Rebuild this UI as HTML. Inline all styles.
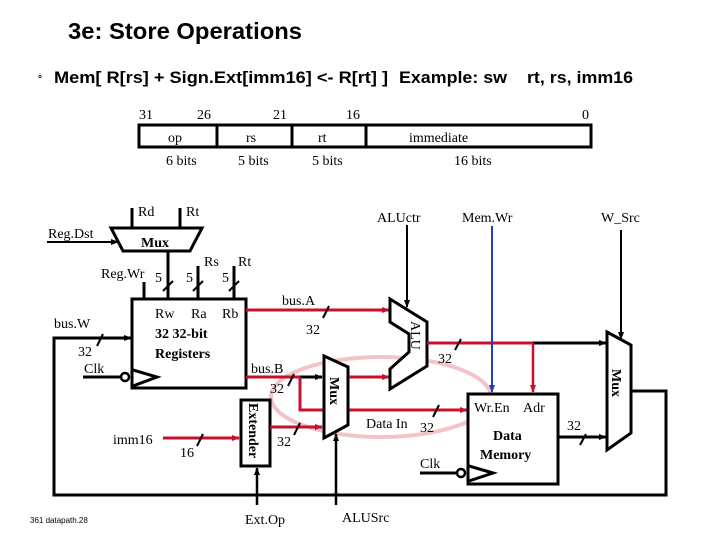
<!DOCTYPE html>
<html><head><meta charset="utf-8"><style>
html,body{margin:0;padding:0;background:#fff;}
svg{display:block;}
.s{font-family:"Liberation Serif",serif;font-size:14px;fill:#000;}
.b{font-family:"Liberation Serif",serif;font-size:14px;font-weight:bold;fill:#000;}
.h{font-family:"Liberation Sans",sans-serif;font-weight:bold;fill:#000;}
</style></head><body>
<svg width="720" height="540" viewBox="0 0 720 540" xmlns="http://www.w3.org/2000/svg">
<defs>
<marker id="ak" markerWidth="8" markerHeight="8" refX="7" refY="4" orient="auto" markerUnits="userSpaceOnUse"><path d="M0,1 L8,4 L0,7z" fill="#000"/></marker>
<marker id="ar" markerWidth="8" markerHeight="8" refX="7" refY="4" orient="auto" markerUnits="userSpaceOnUse"><path d="M0,1 L8,4 L0,7z" fill="#c8102e"/></marker>
<marker id="ab" markerWidth="8" markerHeight="8" refX="7" refY="4" orient="auto" markerUnits="userSpaceOnUse"><path d="M0,1 L8,4 L0,7z" fill="#1f3fbf"/></marker>
</defs>
<text x="68" y="39" class="h" font-size="23" textLength="234" lengthAdjust="spacingAndGlyphs">3e: Store Operations</text>
<text x="38" y="82" class="h" font-size="10">°</text>
<text x="54" y="83" class="h" font-size="17" textLength="334" lengthAdjust="spacingAndGlyphs">Mem[ R[rs] + Sign.Ext[imm16] &lt;- R[rt] ]</text>
<text x="399" y="83" class="h" font-size="17" textLength="108" lengthAdjust="spacingAndGlyphs">Example: sw</text>
<text x="527" y="83" class="h" font-size="17" textLength="106" lengthAdjust="spacingAndGlyphs">rt, rs, imm16</text>

<g class="s">
<text x="139" y="119">31</text><text x="197" y="119">26</text><text x="273" y="119">21</text><text x="346" y="119">16</text><text x="582" y="119">0</text>
</g>
<rect x="139" y="125" width="452" height="22" fill="none" stroke="#000" stroke-width="3"/>
<line x1="217" y1="125" x2="217" y2="147" stroke="#000" stroke-width="3"/>
<line x1="292" y1="125" x2="292" y2="147" stroke="#000" stroke-width="3"/>
<line x1="366" y1="125" x2="366" y2="147" stroke="#000" stroke-width="3"/>
<g class="s">
<text x="168" y="142">op</text><text x="246" y="142">rs</text><text x="318" y="142">rt</text><text x="409" y="142">immediate</text>
<text x="166" y="165">6 bits</text><text x="238" y="165">5 bits</text><text x="312" y="165">5 bits</text><text x="454" y="165">16 bits</text>
</g>

<ellipse cx="381" cy="397" rx="110" ry="40" fill="none" stroke="#f2c4c8" stroke-width="4"/>

<line x1="132" y1="208" x2="132" y2="228" stroke="#000" stroke-width="3"/>
<line x1="180" y1="208" x2="180" y2="228" stroke="#000" stroke-width="3"/>
<text x="138" y="216" class="s">Rd</text><text x="186" y="216" class="s">Rt</text>
<polygon points="111,228 202,228 190,251 123,251" fill="#fff" stroke="#000" stroke-width="3"/>
<text x="141" y="247" class="b">Mux</text>
<line x1="47" y1="242" x2="118" y2="242" stroke="#000" stroke-width="2" marker-end="url(#ak)"/>
<text x="48" y="238" class="s">Reg.Dst</text>
<line x1="168" y1="251" x2="168" y2="299" stroke="#000" stroke-width="3"/>
<text x="101" y="278" class="s">Reg.Wr</text>
<line x1="144" y1="282" x2="144" y2="299" stroke="#000" stroke-width="3"/>
<line x1="198" y1="266" x2="198" y2="299" stroke="#000" stroke-width="3"/>
<line x1="234" y1="266" x2="234" y2="299" stroke="#000" stroke-width="3"/>
<text x="204" y="266" class="s">Rs</text><text x="238" y="266" class="s">Rt</text>
<text x="155" y="282" class="s">5</text><text x="186" y="282" class="s">5</text><text x="222" y="282" class="s">5</text>
<g stroke="#000" stroke-width="2">
<line x1="163" y1="291" x2="173" y2="281"/><line x1="193" y1="291" x2="203" y2="281"/><line x1="229" y1="291" x2="239" y2="281"/>
</g>

<rect x="132" y="299" width="114" height="89" fill="#fff" stroke="#000" stroke-width="3"/>
<text x="155" y="318" class="s">Rw</text><text x="191" y="318" class="s">Ra</text><text x="222" y="318" class="s">Rb</text>
<text x="155" y="338" class="b">32 32-bit</text>
<text x="155" y="358" class="b">Registers</text>
<polyline points="133,370 157,377 133,386" fill="none" stroke="#000" stroke-width="3"/>
<line x1="83" y1="377" x2="121" y2="377" stroke="#000" stroke-width="3"/>
<circle cx="125" cy="377" r="4" fill="#fff" stroke="#000" stroke-width="2.5"/>
<text x="84" y="373" class="s">Clk</text>
<text x="54" y="328" class="s">bus.W</text>
<text x="78" y="356" class="s">32</text>
<line x1="97" y1="346" x2="103" y2="334" stroke="#000" stroke-width="2"/>

<polyline points="631,391 666,391 666,495 54,495 54,338 131,338" fill="none" stroke="#000" stroke-width="3" marker-end="url(#ak)"/>

<line x1="246" y1="310" x2="389" y2="310" stroke="#c8102e" stroke-width="3" marker-end="url(#ar)"/>
<text x="282" y="305" class="s">bus.A</text>
<line x1="323" y1="318" x2="329" y2="306" stroke="#000" stroke-width="2"/>
<text x="306" y="334" class="s">32</text>

<line x1="246" y1="377" x2="300" y2="377" stroke="#c8102e" stroke-width="3"/>
<line x1="300" y1="377" x2="322" y2="377" stroke="#000" stroke-width="3" marker-end="url(#ak)"/>
<polyline points="300,377 300,410 467,410" fill="none" stroke="#c8102e" stroke-width="3" marker-end="url(#ar)"/>
<text x="251" y="373" class="s">bus.B</text>
<text x="270" y="393" class="s">32</text>
<line x1="288" y1="386" x2="294" y2="374" stroke="#000" stroke-width="2"/>
<line x1="433" y1="417" x2="439" y2="405" stroke="#000" stroke-width="2"/>
<text x="366" y="428" class="s">Data In</text><text x="420" y="432" class="s">32</text>

<rect x="241" y="400" width="29" height="66" fill="#fff" stroke="#000" stroke-width="3"/>
<text transform="translate(249,403) rotate(90)" class="b">Extender</text>
<line x1="163" y1="438" x2="239" y2="438" stroke="#c8102e" stroke-width="3" marker-end="url(#ar)"/>
<text x="113" y="444" class="s">imm16</text>
<line x1="197" y1="446" x2="203" y2="434" stroke="#000" stroke-width="2"/>
<text x="180" y="457" class="s">16</text>
<line x1="270" y1="427" x2="322" y2="427" stroke="#c8102e" stroke-width="3" marker-end="url(#ar)"/>
<line x1="294" y1="435" x2="300" y2="423" stroke="#000" stroke-width="2"/>
<text x="277" y="446" class="s">32</text>
<line x1="257" y1="505" x2="257" y2="468" stroke="#000" stroke-width="2.5" marker-end="url(#ak)"/>
<text x="245" y="524" class="s">Ext.Op</text>

<polygon points="324,356 348,367 348,425 324,438" fill="#fff" stroke="#000" stroke-width="3"/>
<text transform="translate(330,377) rotate(90)" class="b">Mux</text>
<line x1="336" y1="505" x2="336" y2="434" stroke="#000" stroke-width="2.5" marker-end="url(#ak)"/>
<text x="342" y="522" class="s">ALUSrc</text>
<line x1="349" y1="377" x2="389" y2="377" stroke="#c8102e" stroke-width="3" marker-end="url(#ar)"/>

<polygon points="390,299 427,322 427,366 390,389 390,369 409,352 409,334 390,322" fill="#fff" stroke="#000" stroke-width="3"/>
<text transform="translate(411,321) rotate(90)" class="s">ALU</text>
<line x1="407" y1="225" x2="407" y2="307" stroke="#000" stroke-width="2" marker-end="url(#ak)"/>
<text x="377" y="222" class="s">ALUctr</text>

<line x1="427" y1="343" x2="533" y2="343" stroke="#c8102e" stroke-width="3"/>
<line x1="533" y1="343" x2="606" y2="343" stroke="#000" stroke-width="3" marker-end="url(#ak)"/>
<line x1="533" y1="343" x2="533" y2="392" stroke="#c8102e" stroke-width="2.5" marker-end="url(#ar)"/>
<line x1="455" y1="350" x2="461" y2="339" stroke="#000" stroke-width="2"/>
<text x="438" y="363" class="s">32</text>

<line x1="492" y1="226" x2="492" y2="392" stroke="#1f3fbf" stroke-width="2" marker-end="url(#ab)"/>
<text x="462" y="222" class="s">Mem.Wr</text>

<rect x="468" y="394" width="90" height="90" fill="#fff" stroke="#000" stroke-width="3"/>
<text x="474" y="412" class="s">Wr.En</text><text x="523" y="412" class="s">Adr</text>
<text x="493" y="440" class="b">Data</text>
<text x="480" y="459" class="b">Memory</text>
<polyline points="469,466 493,473 469,481" fill="none" stroke="#000" stroke-width="3"/>
<line x1="420" y1="473" x2="457" y2="473" stroke="#000" stroke-width="3"/>
<circle cx="461" cy="473" r="4" fill="#fff" stroke="#000" stroke-width="2.5"/>
<text x="420" y="468" class="s">Clk</text>
<line x1="558" y1="437" x2="606" y2="437" stroke="#000" stroke-width="3" marker-end="url(#ak)"/>
<line x1="580" y1="445" x2="586" y2="434" stroke="#000" stroke-width="2"/>
<text x="567" y="430" class="s">32</text>

<polygon points="607,332 631,345 631,433 607,450" fill="#fff" stroke="#000" stroke-width="3"/>
<text transform="translate(612,369) rotate(90)" class="b">Mux</text>
<line x1="621" y1="230" x2="621" y2="339" stroke="#000" stroke-width="2" marker-end="url(#ak)"/>
<text x="601" y="222" class="s">W_Src</text>

<text x="30" y="523" font-family="Liberation Sans,sans-serif" font-size="8" fill="#000">361 datapath.28</text>
</svg>
</body></html>
